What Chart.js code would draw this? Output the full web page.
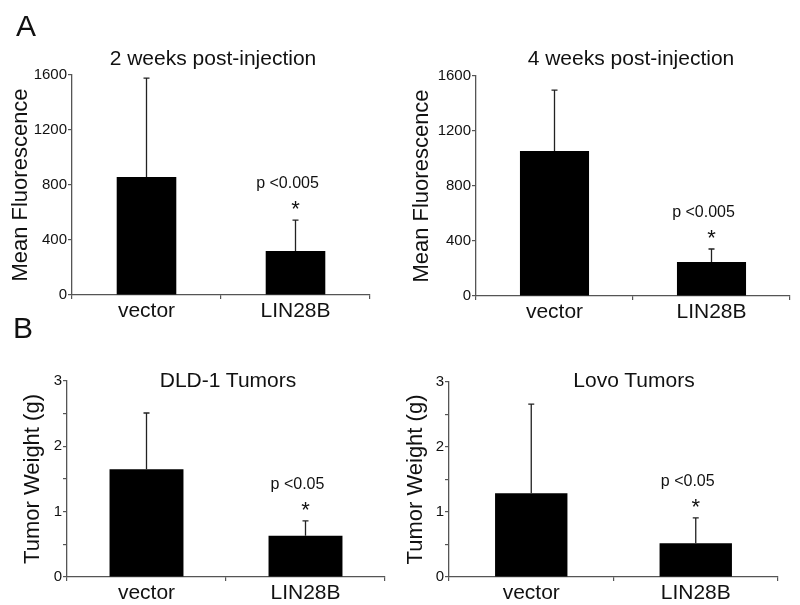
<!DOCTYPE html>
<html>
<head>
<meta charset="utf-8">
<script src="https://cdn.jsdelivr.net/npm/chart.js@4.4.1/dist/chart.umd.min.js"></script>
<style>
  body { margin: 0; background: #fff; }
  #fig { position: relative; width: 800px; height: 605px; font-family: "Liberation Sans", Arial, sans-serif; color: #111; overflow: hidden; }
  #fig canvas { position: absolute; }
  .panel { position: absolute; font-size: 30px; line-height: 30px; }
  .title { position: absolute; font-size: 21px; line-height: 20px; white-space: nowrap; transform: translateX(-50%); }
</style>
</head>
<body>
<div id="fig">
  <canvas id="fluor2w" width="400" height="325" style="left:0px;top:0px"></canvas>
  <canvas id="fluor4w" width="400" height="325" style="left:400px;top:0px"></canvas>
  <canvas id="dld" width="400" height="295" style="left:0px;top:310px"></canvas>
  <canvas id="lovo" width="400" height="295" style="left:400px;top:310px"></canvas>
  <div class="panel" style="left:16px;top:11px">A</div>
  <div class="panel" style="left:13px;top:313px">B</div>
  <div class="title" style="left:213px;top:48px">2 weeks post-injection</div>
  <div class="title" style="left:631px;top:48px">4 weeks post-injection</div>
  <div class="title" style="left:228px;top:370px">DLD-1 Tumors</div>
  <div class="title" style="left:634px;top:370px">Lovo Tumors</div>
</div>
<script>
const categories = ["vector", "LIN28B"]

// mean fluorescence, bar height and upper error
const fluor2wMeans = [858, 320]
const fluor2wErrors = [720, 225]
const fluor4wMeans = [1055, 247]
const fluor4wErrors = [443, 95]

// tumor weight (g)
const dldMeans = [1.65, 0.63]
const dldErrors = [0.86, 0.23]
const lovoMeans = [1.29, 0.52]
const lovoErrors = [1.37, 0.39]

const fluorTicks = [0, 400, 800, 1200, 1600]
const weightTicks = [0, 1, 2, 3]
const fluorP = "p <0.005"
const weightP = "p <0.05"

const FONT = '"Liberation Sans", Arial, sans-serif'
const AXIS = "#555"
Chart.defaults.font.family = FONT
Chart.defaults.color = "#111"

// upward error bars + significance mark over the last bar
const errorBars = {
  id: "errorBars",
  afterDatasetsDraw(chart, args, opts) {
    const ctx = chart.ctx
    const y = chart.scales.y
    const ds = chart.data.datasets[0]
    const bars = chart.getDatasetMeta(0).data
    ctx.save()
    ctx.strokeStyle = "#222"
    ctx.lineWidth = 1.3
    bars.forEach((bar, i) => {
      const top = y.getPixelForValue(ds.data[i] + ds.errors[i])
      ctx.beginPath()
      ctx.moveTo(bar.x, bar.y)
      ctx.lineTo(bar.x, top)
      ctx.moveTo(bar.x - 3, top)
      ctx.lineTo(bar.x + 3, top)
      ctx.stroke()
    })
    const last = bars.length - 1
    const bar = bars[last]
    const top = y.getPixelForValue(ds.data[last] + ds.errors[last])
    ctx.fillStyle = "#111"
    ctx.textAlign = "center"
    ctx.textBaseline = "middle"
    ctx.font = "16px " + FONT
    ctx.fillText(opts.pText, bar.x - 8, top - 36)
    ctx.font = "22px " + FONT
    ctx.fillText("*", bar.x, top - 10)
    ctx.restore()
  }
}

function makeChart(id, means, errors, opt) {
  const canvas = document.getElementById(id)
  const W = canvas.width, H = canvas.height
  const area = opt.area
  return new Chart(canvas, {
    type: "bar",
    data: {
      labels: categories,
      datasets: [{
        data: means,
        errors: errors,
        backgroundColor: "#000",
        borderWidth: 0,
        barPercentage: opt.barPct,
        categoryPercentage: 1
      }]
    },
    plugins: [errorBars],
    options: {
      responsive: false,
      animation: false,
      devicePixelRatio: 1,
      layout: { padding: { left: 0, top: area.top, right: W - area.right, bottom: 0 } },
      plugins: {
        legend: { display: false },
        tooltip: { enabled: false },
        errorBars: { pText: opt.pText }
      },
      scales: {
        x: {
          grid: { drawOnChartArea: false, tickLength: 4, color: AXIS, lineWidth: 1.2 },
          border: { color: AXIS, width: 1.3 },
          ticks: { font: { size: 21 }, padding: 0, color: "#111" },
          afterFit(s) { s.height = H - area.bottom }
        },
        y: {
          min: opt.ticks[0],
          max: opt.ticks[opt.ticks.length - 1],
          grid: { drawOnChartArea: false, tickLength: 4, color: AXIS, lineWidth: 1.2 },
          border: { color: AXIS, width: 1.3 },
          ticks: {
            stepSize: opt.step,
            font: { size: 15 },
            padding: 1,
            color: "#111",
            callback: (v) => opt.ticks.includes(v) ? String(v) : ""
          },
          title: { display: true, text: opt.yTitle, font: { size: 22 }, color: "#111", padding: { top: opt.titlePad, bottom: 0 } },
          afterFit(s) { s.width = area.left }
        }
      }
    }
  })
}

makeChart("fluor2w", fluor2wMeans, fluor2wErrors, {
  area: { left: 72, right: 370, top: 75, bottom: 295 },
  barPct: 0.4, ticks: fluorTicks, step: 400, yTitle: "Mean Fluorescence", titlePad: 8, pText: fluorP
})
makeChart("fluor4w", fluor4wMeans, fluor4wErrors, {
  area: { left: 76, right: 390, top: 76, bottom: 296 },
  barPct: 0.44, ticks: fluorTicks, step: 400, yTitle: "Mean Fluorescence", titlePad: 9, pText: fluorP
})
makeChart("dld", dldMeans, dldErrors, {
  area: { left: 67, right: 385, top: 71, bottom: 267 },
  barPct: 0.465, ticks: weightTicks, step: 0.5, yTitle: "Tumor Weight (g)", titlePad: 20, pText: weightP
})
makeChart("lovo", lovoMeans, lovoErrors, {
  area: { left: 49, right: 378, top: 72, bottom: 267 },
  barPct: 0.44, ticks: weightTicks, step: 0.5, yTitle: "Tumor Weight (g)", titlePad: 3, pText: weightP
})
</script>
</body>
</html>
